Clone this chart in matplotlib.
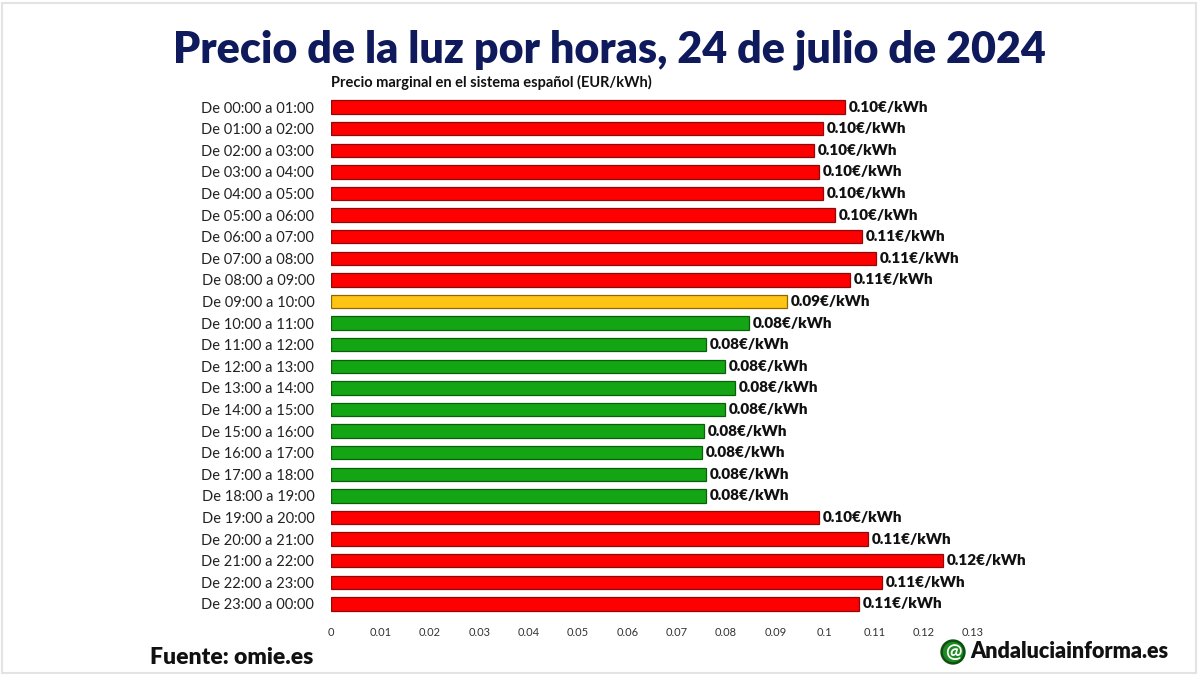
import matplotlib
matplotlib.use("Agg")
import matplotlib.pyplot as plt
from matplotlib.patches import Rectangle

plt.rcParams['font.family'] = ['Lato', 'DejaVu Sans']

# Hourly marginal price, Spain, 24 July 2024 (EUR/kWh)
hours = [f"De {h:02d}:00 a {(h + 1) % 24:02d}:00" for h in range(24)]
prices = [0.1040, 0.0996, 0.0978, 0.0988, 0.0996, 0.1020, 0.1075, 0.1103,
          0.1051, 0.0923, 0.0846, 0.0759, 0.0798, 0.0818, 0.0798, 0.0755,
          0.0751, 0.0759, 0.0759, 0.0988, 0.1087, 0.1239, 0.1115, 0.1069]
xticks = [0, 0.01, 0.02, 0.03, 0.04, 0.05, 0.06, 0.07, 0.08, 0.09, 0.1, 0.11, 0.12, 0.13]
xtick_labels = ['0', '0.01', '0.02', '0.03', '0.04', '0.05', '0.06', '0.07',
                '0.08', '0.09', '0.1', '0.11', '0.12', '0.13']


def bar_colors(p):
    if p >= 0.095:
        return '#ff0000', '#8e0a0a'
    if p >= 0.088:
        return '#ffc414', '#8a6a00'
    return '#14a514', '#0b5e0b'


fig = plt.figure(figsize=(12, 6.75), dpi=100)
ax = fig.add_axes([331 / 1200, 1 - 614.8 / 675, (973 - 331) / 1200, 518.6 / 675])

for i, p in enumerate(prices):
    fc, ec = bar_colors(p)
    ax.barh(i, p, height=0.62, color=fc, edgecolor=ec, linewidth=0.9)
    ax.text(p + 0.0008, i, f"{p:.2f}€/kWh", va='center', ha='left',
            fontsize=11, fontweight='heavy', color='#111111')

ax.set_ylim(23.5, -0.5)
ax.set_xlim(0, 0.13)
ax.set_yticks(range(24))
ax.set_yticklabels(hours, fontsize=10.5, color='#222222')
ax.set_xticks(xticks)
ax.set_xticklabels(xtick_labels, fontsize=8, color='#333333')
ax.tick_params(axis='both', length=0)
ax.tick_params(axis='y', pad=12)
ax.tick_params(axis='x', pad=9)
for s in ax.spines.values():
    s.set_visible(False)

fig.text(0.508, 0.926, "Precio de la luz por horas, 24 de julio de 2024",
         ha='center', va='center', fontsize=31, fontweight='heavy', color='#0f1a5c')
fig.text(331 / 1200, 1 - 82 / 675, "Precio marginal en el sistema español (EUR/kWh)",
         ha='left', va='center', fontsize=10.5, fontweight='bold', color='#111111')

fig.text(150 / 1200, 1 - 657 / 675, "Fuente: omie.es", ha='left', va='center',
         fontsize=16.5, fontweight='heavy', color='#111111')
fig.text(953 / 1200, 1 - 652 / 675, "@", ha='center', va='center',
         fontsize=14, fontweight='bold', color='white',
         bbox=dict(boxstyle='circle,pad=0.15', fc='#1f8a22', ec='#0d4f10', lw=1.8))
fig.text(970 / 1200, 1 - 652 / 675, "Andaluciainforma.es", ha='left', va='center',
         fontsize=15.5, fontweight='heavy', color='#111111')

# faint frame around the picture
fig.patches.append(Rectangle((0.002, 0.003), 0.995, 0.993, transform=fig.transFigure,
                             fill=False, ec='#e3e3e3', lw=1.5))

fig.savefig("out.png", dpi=100, facecolor='white')
